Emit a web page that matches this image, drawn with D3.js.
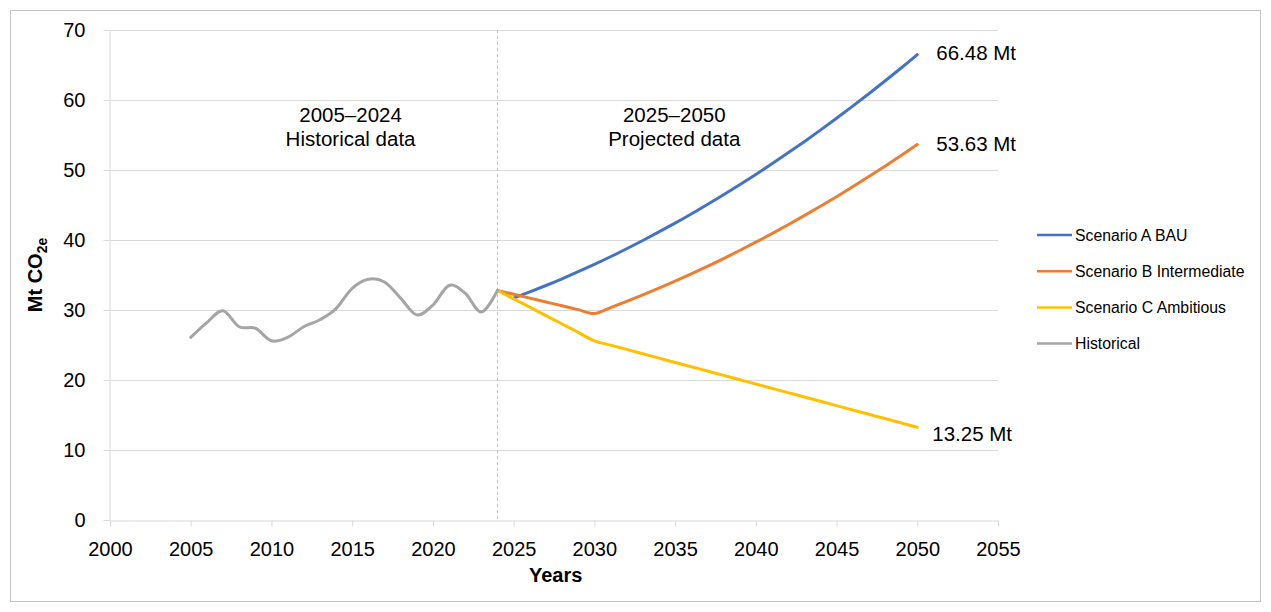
<!DOCTYPE html>
<html>
<head>
<meta charset="utf-8">
<script src="https://cdn.jsdelivr.net/npm/d3@7"></script>
<style>
  html, body { margin: 0; padding: 0; background: #fff; }
  svg { display: block; font-family: "Liberation Sans", Arial, sans-serif; }
  .axis text { fill: #000; font-size: 20px; }
  .axis line, .axis path { stroke: #d9d9d9; }
</style>
</head>
<body>
<div id="chart"></div>
<script>
// Values (Mt CO2e per year)
const histYears = [2005, 2006, 2007, 2008, 2009, 2010, 2011, 2012, 2013, 2014,
                   2015, 2016, 2017, 2018, 2019, 2020, 2021, 2022, 2023, 2024];
const histValues = [26.1, 28.2, 29.9, 27.6, 27.4, 25.6, 26.1, 27.6, 28.6, 30.2,
                    33.1, 34.4, 34.0, 31.7, 29.3, 30.7, 33.5, 32.4, 29.7, 32.8];

const bauYears = [2025, 2026, 2027, 2028, 2029, 2030, 2031, 2032, 2033, 2034, 2035, 2036, 2037,
                  2038, 2039, 2040, 2041, 2042, 2043, 2044, 2045, 2046, 2047, 2048, 2049, 2050];
const bauValues = [31.70, 32.58, 33.50, 34.46, 35.47, 36.52, 37.61, 38.75, 39.93, 41.15, 42.41, 43.72, 45.07,
                   46.46, 47.89, 49.37, 50.89, 52.45, 54.05, 55.70, 57.39, 59.12, 60.89, 62.71, 64.57, 66.48];

const projYears = [2024, 2025, 2026, 2027, 2028, 2029, 2030, 2031, 2032, 2033, 2034, 2035, 2036, 2037,
                   2038, 2039, 2040, 2041, 2042, 2043, 2044, 2045, 2046, 2047, 2048, 2049, 2050];
const midValues = [32.80, 32.25, 31.70, 31.15, 30.60, 30.05, 29.50, 30.35, 31.24, 32.16, 33.12, 34.12, 35.16, 36.23,
                   37.35, 38.50, 39.69, 40.91, 42.18, 43.48, 44.82, 46.19, 47.61, 49.06, 50.55, 52.07, 53.63];
const ambValues = [32.80, 31.60, 30.40, 29.20, 28.00, 26.80, 25.60, 24.98, 24.37, 23.75, 23.13, 22.51, 21.90, 21.28,
                   20.66, 20.04, 19.43, 18.81, 18.19, 17.57, 16.96, 16.34, 15.72, 15.10, 14.49, 13.87, 13.25];

const seriesNames = ["Scenario A BAU", "Scenario B Intermediate", "Scenario C Ambitious", "Historical"];
const seriesColors = ["#4472c4", "#ed7d31", "#ffc000", "#a5a5a5"];
const endLabels = ["66.48 Mt", "53.63 Mt", "13.25 Mt"];

const xTicks = d3.range(2000, 2056, 5);
const yTicks = d3.range(0, 71, 10);

(function () {
  "use strict";

  const width = 1271, height = 612;
  const margin = { top: 30, left: 110 };
  const plotW = 888, plotH = 490;

  const svg = d3.select("#chart").append("svg")
    .attr("width", width)
    .attr("height", height);

  // outer frame of the chart area
  svg.append("rect")
    .attr("x", 10.5).attr("y", 10.5)
    .attr("width", 1250).attr("height", 591)
    .attr("fill", "#fff")
    .attr("stroke", "#c4c4c4");

  const x = d3.scaleLinear().domain([2000, 2055]).range([margin.left, margin.left + plotW]);
  const y = d3.scaleLinear().domain([0, 70]).range([margin.top + plotH, margin.top]);

  // gridlines
  svg.append("g")
    .selectAll("line")
    .data(yTicks.filter(d => d > 0))
    .join("line")
      .attr("x1", x(2000)).attr("x2", x(2055))
      .attr("y1", d => y(d) + 0.5).attr("y2", d => y(d) + 0.5)
      .attr("stroke", "#d9d9d9");

  svg.append("g")
    .attr("class", "axis")
    .attr("transform", "translate(0," + (y(0) + 0.5) + ")")
    .call(d3.axisBottom(x).tickValues(xTicks).tickFormat(d3.format("d"))
      .tickSize(6).tickSizeOuter(0).tickPadding(15));

  svg.append("g")
    .attr("class", "axis")
    .attr("transform", "translate(" + (x(2000) - 0.5) + ",0)")
    .call(d3.axisLeft(y).tickValues(yTicks).tickSize(6).tickSizeOuter(0).tickPadding(18));

  // boundary between historical and projected data
  svg.append("line")
    .attr("x1", x(2024)).attr("x2", x(2024))
    .attr("y1", y(70)).attr("y2", y(0))
    .attr("stroke", "#bfbfbf")
    .attr("stroke-dasharray", "3,3");

  // axis titles
  svg.append("text")
    .attr("x", x(2027.6)).attr("y", 582)
    .attr("text-anchor", "middle")
    .attr("font-size", 20).attr("font-weight", "bold")
    .text("Years");

  const yTitle = svg.append("text")
    .attr("transform", "translate(42," + y(35) + ") rotate(-90)")
    .attr("text-anchor", "middle")
    .attr("font-size", 20).attr("font-weight", "bold");
  yTitle.append("tspan").text("Mt CO");
  yTitle.append("tspan").attr("font-size", 14).attr("dy", 5).text("2e");

  // period annotations
  const notes = [
    { cx: x(2014.9), lines: ["2005\u20132024", "Historical data"] },
    { cx: x(2034.95), lines: ["2025\u20132050", "Projected data"] }
  ];
  notes.forEach(function (n) {
    n.lines.forEach(function (t, i) {
      svg.append("text")
        .attr("x", n.cx).attr("y", 122 + i * 24)
        .attr("text-anchor", "middle")
        .attr("font-size", 20.5)
        .text(t);
    });
  });

  const line = d3.line()
    .x(d => x(d[0]))
    .y(d => y(d[1]))
    .curve(d3.curveCardinal.tension(0));

  const series = [
    d3.zip(bauYears, bauValues),
    d3.zip(projYears, midValues),
    d3.zip(projYears, ambValues),
    d3.zip(histYears, histValues)
  ];

  svg.append("g")
    .selectAll("path")
    .data(series)
    .join("path")
      .attr("d", line)
      .attr("fill", "none")
      .attr("stroke", (d, i) => seriesColors[i])
      .attr("stroke-width", 3)
      .attr("stroke-linejoin", "round")
      .attr("stroke-linecap", "round");

  // value labels at the 2050 end points
  const labelShift = [[19, -2], [19, -1], [15, 7]];
  svg.append("g")
    .selectAll("text")
    .data(series.slice(0, 3))
    .join("text")
      .attr("x", (d, i) => x(d[d.length - 1][0]) + labelShift[i][0])
      .attr("y", (d, i) => y(d[d.length - 1][1]) + labelShift[i][1])
      .attr("dy", "0.35em")
      .attr("font-size", 20.5)
      .text((d, i) => endLabels[i]);

  // legend
  const legend = svg.append("g")
    .attr("transform", "translate(1037,235)");
  const item = legend.selectAll("g")
    .data(seriesNames)
    .join("g")
      .attr("transform", (d, i) => "translate(0," + (i * 36.2) + ")");
  item.append("line")
    .attr("x1", 0).attr("x2", 35)
    .attr("stroke", (d, i) => seriesColors[i])
    .attr("stroke-width", 2.5);
  item.append("text")
    .attr("x", 38).attr("dy", "0.35em")
    .attr("font-size", 15.8)
    .text(d => d);
})();
</script>
</body>
</html>
